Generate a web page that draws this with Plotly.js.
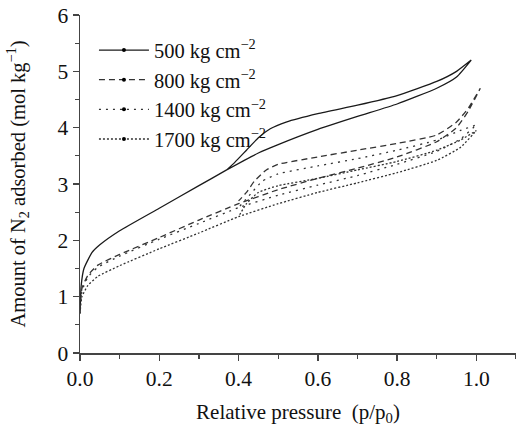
<!DOCTYPE html>
<html>
<head>
<meta charset="utf-8">
<script src="https://cdn.plot.ly/plotly-3.0.1.min.js"></script>
<style>html,body{margin:0;padding:0;background:#fff;}#chart{width:516px;height:426px;}</style>
</head>
<body>
<div id="chart"></div>
<script>
// Series names
const seriesNames = ["500 kg cm<sup>\u22122</sup>", "800 kg cm<sup>\u22122</sup>", "1400 kg cm<sup>\u22122</sup>", "1700 kg cm<sup>\u22122</sup>"];

// 500 kg cm-2 (adsorption then desorption)
const x500ads = [0, 0.003, 0.01, 0.03, 0.05, 0.1, 0.2, 0.3, 0.37, 0.45, 0.5, 0.6, 0.7, 0.8, 0.9, 0.95, 0.987];
const y500ads = [0.7, 1.2, 1.5, 1.78, 1.92, 2.17, 2.57, 2.97, 3.25, 3.55, 3.7, 3.97, 4.2, 4.42, 4.7, 4.9, 5.2];
const x500des = [0.987, 0.95, 0.9, 0.8, 0.7, 0.6, 0.52, 0.48, 0.45, 0.42, 0.39, 0.37];
const y500des = [5.2, 5.0, 4.82, 4.57, 4.4, 4.25, 4.1, 3.98, 3.82, 3.6, 3.38, 3.25];

// 800 kg cm-2
const x800ads = [0, 0.005, 0.02, 0.045, 0.1, 0.2, 0.3, 0.4, 0.5, 0.6, 0.7, 0.8, 0.9, 0.95, 0.98, 1.01];
const y800ads = [0.75, 1.15, 1.38, 1.56, 1.75, 2.05, 2.36, 2.65, 2.9, 3.1, 3.28, 3.48, 3.75, 4.0, 4.3, 4.7];
const x800des = [1.01, 0.98, 0.95, 0.9, 0.8, 0.7, 0.6, 0.5, 0.47, 0.44, 0.42, 0.4];
const y800des = [4.7, 4.35, 4.1, 3.87, 3.72, 3.6, 3.48, 3.35, 3.25, 3.05, 2.85, 2.7];

// 1400 kg cm-2
const x1400ads = [0, 0.005, 0.02, 0.045, 0.1, 0.2, 0.3, 0.4, 0.5, 0.6, 0.7, 0.8, 0.9, 0.96, 1.0];
const y1400ads = [0.8, 1.1, 1.35, 1.52, 1.72, 2.02, 2.3, 2.58, 2.8, 2.98, 3.15, 3.35, 3.58, 3.8, 4.05];
const x1400des = [1.0, 0.96, 0.9, 0.8, 0.7, 0.6, 0.5, 0.46, 0.43, 0.4];
const y1400des = [4.05, 3.95, 3.78, 3.6, 3.45, 3.32, 3.18, 3.05, 2.82, 2.58];

// 1700 kg cm-2
const x1700ads = [0, 0.005, 0.02, 0.045, 0.1, 0.2, 0.3, 0.4, 0.5, 0.6, 0.7, 0.8, 0.9, 0.96, 1.0];
const y1700ads = [0.7, 1.0, 1.2, 1.36, 1.55, 1.85, 2.13, 2.42, 2.65, 2.85, 3.02, 3.2, 3.42, 3.65, 3.95];
const x1700des = [1.0, 0.96, 0.9, 0.8, 0.7, 0.6, 0.5, 0.45, 0.42, 0.4];
const y1700des = [3.95, 3.78, 3.6, 3.4, 3.25, 3.1, 2.97, 2.85, 2.65, 2.42];

const xTickVals = [0, 0.2, 0.4, 0.6, 0.8, 1.0];
const xTickText = ["0.0", "0.2", "0.4", "0.6", "0.8", "1.0"];
const yTickVals = [0, 1, 2, 3, 4, 5, 6];

const FONT = "'Liberation Serif', 'Times New Roman', serif";
const styles = [
  {color: "#1a1a1a", dash: "solid", width: 1.3},
  {color: "#333333", dash: "6px,4px", width: 1.3},
  {color: "#333333", dash: "2px,5px", width: 1.3},
  {color: "#333333", dash: "2px,2px", width: 1.3}
];
const xs = [x500ads.concat(x500des), x800ads.concat(x800des), x1400ads.concat(x1400des), x1700ads.concat(x1700des)];
const ys = [y500ads.concat(y500des), y800ads.concat(y800des), y1400ads.concat(y1400des), y1700ads.concat(y1700des)];

const traces = [];
for (let i = 0; i < 4; i++) {
  traces.push({
    x: xs[i], y: ys[i], type: "scatter", mode: "lines",
    line: {color: styles[i].color, dash: styles[i].dash, width: styles[i].width, shape: "spline", smoothing: 0.5},
    showlegend: false, hoverinfo: "skip"
  });
}
// legend entries (line with small centre dot)
for (let i = 0; i < 4; i++) {
  traces.push({
    x: [null], y: [null], type: "scatter", mode: "lines+markers", name: seriesNames[i],
    line: {color: styles[i].color, dash: styles[i].dash, width: styles[i].width},
    marker: {color: "#000", size: 4, symbol: "circle"},
    showlegend: true
  });
}

const layout = {
  width: 516, height: 426,
  margin: {l: 80, r: 0, t: 15, b: 73},
  paper_bgcolor: "#fff", plot_bgcolor: "#fff",
  font: {family: FONT, size: 20, color: "#111"},
  showlegend: true,
  legend: {x: 0.032, y: 0.955, xanchor: "left", yanchor: "top", bgcolor: "rgba(0,0,0,0)",
           font: {family: FONT, size: 20.5, color: "#111"}, itemwidth: 50, tracegroupgap: 0},
  xaxis: {
    range: [0, 1.1], showgrid: false, zeroline: false, showline: true, linecolor: "#444", linewidth: 1.5,
    ticks: "outside", ticklen: 6, tickwidth: 1.5, tickcolor: "#444",
    tickvals: xTickVals, ticktext: xTickText,
    minor: {dtick: 0.1, tick0: 0, ticks: "outside", ticklen: 4, tickwidth: 1.3, tickcolor: "#444"},
    tickfont: {family: FONT, size: 21.5, color: "#111"},
    title: {text: "Relative pressure  (p/p<sub>0</sub>)", font: {family: FONT, size: 21, color: "#111"}, standoff: 14}
  },
  yaxis: {
    range: [0, 6], showgrid: false, zeroline: false, showline: true, linecolor: "#444", linewidth: 1.5,
    ticks: "outside", ticklen: 6, tickwidth: 1.5, tickcolor: "#444",
    tickvals: yTickVals,
    minor: {dtick: 0.5, tick0: 0, ticks: "outside", ticklen: 4, tickwidth: 1.3, tickcolor: "#444"},
    tickfont: {family: FONT, size: 21.5, color: "#111"},
    title: {text: "Amount of N<sub>2</sub> adsorbed (mol kg<sup>\u22121</sup>)", font: {family: FONT, size: 20.5, color: "#111"}, standoff: 26}
  }
};

Plotly.newPlot("chart", traces, layout, {displayModeBar: false, staticPlot: true});
</script>
</body>
</html>
